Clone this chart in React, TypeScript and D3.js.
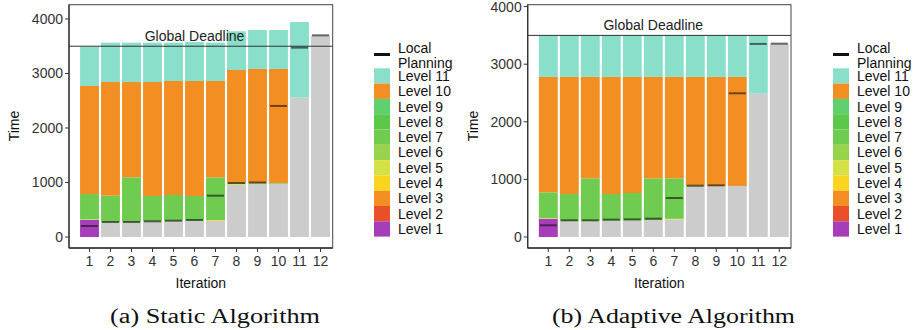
import React from "react";
import * as d3 from "d3";

const iterations = [1, 2, 3, 4, 5, 6, 7, 8, 9, 10, 11, 12];
const yTicks = [0, 1000, 2000, 3000, 4000];
const globalDeadline = 3500;

const levelNames = ["Level 1", "Level 2", "Level 3", "Level 4", "Level 5", "Level 6",
  "Level 7", "Level 8", "Level 9", "Level 10", "Level 11"];
const levelColors = ["#a83dba", "#e9502a", "#f28e22", "#f9d51d", "#d4e246", "#98d34b",
  "#70cc50", "#5bc84a", "#60cf6e", "#f28e22", "#8adfcb"];
const doneColor = "#cccccc";

// (a) static algorithm
const staticDone = [0, 270, 270, 281, 295, 299, 299, 960, 985, 985, 2557, 3700];
const staticLevel1 = [312, 0, 0, 0, 0, 0, 0, 0, 0, 0, 0, 0];
const staticLevel4 = [0, 0, 0, 0, 0, 0, 12, 0, 0, 0, 0, 0];
const staticLevel5 = [12, 0, 0, 0, 0, 0, 0, 12, 0, 0, 0, 0];
const staticLevel7 = [465, 488, 825, 471, 476, 453, 784, 18, 5, 5, 0, 0];
const staticLevel10 = [1982, 2086, 1749, 2092, 2091, 2110, 1767, 2074, 2093, 2093, 0, 0];
const staticLevel11 = [719, 722, 722, 722, 704, 716, 704, 710, 715, 715, 1388, 0];
const staticLocal = [202, 275, 275, 288, 299, 312, 758, 990, 1000, 2404, 3474, 3700];

// (b) adaptive algorithm
const adaptiveDone = [0, 272, 272, 283, 285, 295, 305, 874, 886, 886, 2489, 3357];
const adaptiveLevel1 = [318, 0, 0, 0, 0, 0, 0, 0, 0, 0, 0, 0];
const adaptiveLevel4 = [0, 0, 0, 0, 0, 0, 10, 0, 0, 0, 0, 0];
const adaptiveLevel5 = [12, 0, 0, 0, 0, 0, 0, 0, 0, 0, 0, 0];
const adaptiveLevel7 = [446, 475, 747, 464, 479, 724, 704, 20, 0, 0, 0, 0];
const adaptiveLevel10 = [2003, 2032, 1760, 2032, 2015, 1760, 1760, 1885, 1893, 1893, 0, 0];
const adaptiveLevel11 = [721, 721, 721, 721, 721, 721, 721, 721, 721, 721, 1011, 0];
const adaptiveLocal = [203, 290, 290, 301, 306, 318, 677, 891, 897, 2495, 3352, 3357];

const zeros = iterations.map(() => 0);

function buildRows(done, levels) {
  return iterations.map((it, i) => {
    const row = { iteration: it, done: done[i] };
    levelNames.forEach((name, j) => {
      row[name] = (levels[j] || zeros)[i];
    });
    return row;
  });
}

const staticRows = buildRows(staticDone, {
  0: staticLevel1, 3: staticLevel4, 4: staticLevel5, 6: staticLevel7, 9: staticLevel10, 10: staticLevel11,
});
const adaptiveRows = buildRows(adaptiveDone, {
  0: adaptiveLevel1, 3: adaptiveLevel4, 4: adaptiveLevel5, 6: adaptiveLevel7, 9: adaptiveLevel10, 10: adaptiveLevel11,
});

const keys = ["done", ...levelNames];
const colorOf = (k) => (k === "done" ? doneColor : levelColors[levelNames.indexOf(k)]);

const sans = "'Liberation Sans', Arial, Helvetica, sans-serif";

function Panel({ rows, local, left, right, bandStart, bandEnd, yTop, legendX, caption, captionX, captionW }) {
  const top = 4.7, bottom = 248;
  const x = d3.scaleBand().domain(iterations.map(String)).range([bandStart, bandEnd])
    .paddingInner(0.1).paddingOuter(0.05);
  // value 0 sits 11px above the bottom axis line
  const y = d3.scaleLinear().domain([-(11 / ((237 - top) / yTop)), yTop]).range([bottom, top]);
  const stack = d3.stack().keys(keys)(rows);
  const bw = x.bandwidth();
  const mid = (left + right) / 2;

  return (
    <g>
      {stack.map((layer) => (
        <g key={layer.key} fill={colorOf(layer.key)}>
          {layer.map((d, i) => d[1] - d[0] > 0 ? (
            <rect key={i} x={x(String(iterations[i]))} width={bw}
              y={y(d[1])} height={Math.max(0.6, y(d[0]) - y(d[1]))} />
          ) : null)}
        </g>
      ))}
      {local.map((v, i) => (
        <rect key={"lp" + i} x={x(String(iterations[i])) + bw * 0.05} width={bw * 0.9}
          y={y(v) - 1} height={2} fill="#111" fillOpacity={0.6} />
      ))}
      <line x1={left} x2={right} y1={y(globalDeadline)} y2={y(globalDeadline)} stroke="#333" strokeWidth={1} />
      <text x={x("6") + bw / 2} y={y(globalDeadline) - 5} textAnchor="middle" fontSize={14}
        fontFamily={sans} fill="#222">Global Deadline</text>

      <rect x={left} y={top} width={right - left} height={bottom - top} fill="none" stroke="#444" strokeWidth={1} />
      <line x1={left} x2={left} y1={top} y2={bottom} stroke="#333" strokeWidth={1.3} />
      <line x1={left} x2={right} y1={bottom} y2={bottom} stroke="#333" strokeWidth={1.3} />
      {yTicks.map((t) => (
        <g key={t}>
          <line x1={left - 4} x2={left} y1={y(t)} y2={y(t)} stroke="#333" />
          <text x={left - 6} y={y(t) + 5} textAnchor="end" fontSize={14} fontFamily={sans} fill="#333">{t}</text>
        </g>
      ))}
      {iterations.map((it) => {
        const cx = x(String(it)) + bw / 2;
        return (
          <g key={it}>
            <line x1={cx} x2={cx} y1={bottom} y2={bottom + 4} stroke="#333" />
            <text x={cx} y={266} textAnchor="middle" fontSize={14} fontFamily={sans} fill="#333">{it}</text>
          </g>
        );
      })}
      <text x={mid} y={288} textAnchor="middle" fontSize={14} fontFamily={sans} fill="#111">Iteration</text>
      <text transform={`translate(${left - 50},126) rotate(-90)`} textAnchor="middle" fontSize={14}
        fontFamily={sans} fill="#111">Time</text>

      {/* legend */}
      <rect x={legendX} y={53} width={16} height={3} fill="#111" />
      <text x={legendX + 24} y={52.5} fontSize={14} fontFamily={sans} fill="#111">Local</text>
      <text x={legendX + 24} y={67.5} fontSize={14} fontFamily={sans} fill="#111">Planning</text>
      {levelNames.slice().reverse().map((name, i) => {
        const ky = 68.3 + i * 15.3;
        return (
          <g key={name}>
            <rect x={legendX} y={ky} width={16} height={15.3} fill={colorOf(name)} />
            <text x={legendX + 24} y={ky + 12.6} fontSize={14} fontFamily={sans} fill="#111">{name}</text>
          </g>
        );
      })}

      <text x={captionX} y={323} fontSize={20} fontFamily="'Liberation Serif', 'DejaVu Serif', serif"
        fill="#111" textLength={captionW} lengthAdjust="spacingAndGlyphs">{caption}</text>
    </g>
  );
}

export default function App() {
  return (
    <svg width={919} height={330} style={{ position: "absolute", left: 0, top: 0, background: "#fff" }}>
      <rect width={919} height={330} fill="#fff" />
      <Panel rows={staticRows} local={staticLocal} left={69} right={332.7} bandStart={79} bandEnd={331}
        yTop={4262} legendX={374} caption="(a) Static Algorithm" captionX={110} captionW={210} />
      <Panel rows={adaptiveRows} local={adaptiveLocal} left={527.7} right={791} bandStart={537.8} bandEnd={789.8}
        yTop={4033} legendX={833} caption="(b) Adaptive Algorithm" captionX={552} captionW={243} />
    </svg>
  );
}
